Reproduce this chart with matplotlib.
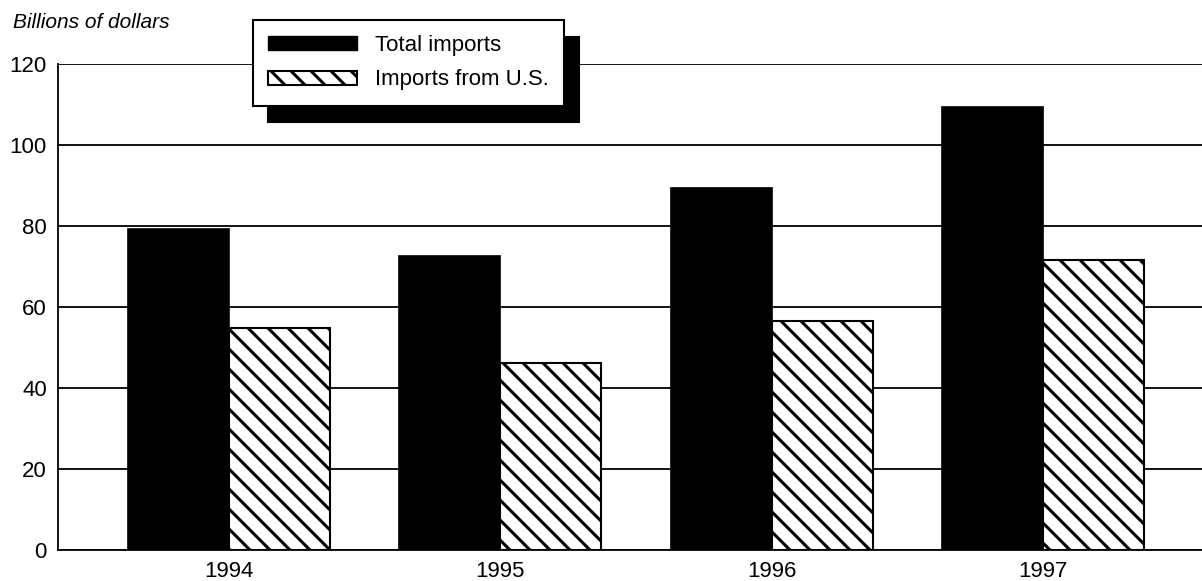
import numpy as np
import matplotlib.pyplot as plt
import matplotlib.hatch as mhatch
from matplotlib.patches import Patch

plt.rcParams['font.family'] = ['Liberation Sans', 'DejaVu Sans']
plt.rcParams['hatch.linewidth'] = 2.2


# wider-spaced "\" hatch, closer to the printed original
class SparseSouthEast(mhatch.SouthEastHatch):
    def __init__(self, hatch, density):
        super().__init__(hatch, density)
        self.num_lines = int(hatch.count('\\') * density * 5 / 3)
        self.num_vertices = (self.num_lines + 1) * 2 if self.num_lines else 0


mhatch._hatch_types = [SparseSouthEast if t is mhatch.SouthEastHatch else t
                       for t in mhatch._hatch_types]

years = ['1994', '1995', '1996', '1997']
total_imports = [79.3, 72.6, 89.4, 109.4]
imports_from_us = [54.8, 46.2, 56.5, 71.6]
yticks = [0, 20, 40, 60, 80, 100, 120]

fig = plt.figure(figsize=(12.02, 5.81), dpi=100)
ax = fig.add_axes([58 / 1202, 31 / 581, 1 - 58 / 1202, (550 - 64) / 581])

x = np.arange(len(years))
w = 0.372
ax.bar(x - w / 2, total_imports, w, color='black', edgecolor='black',
       linewidth=1.2, zorder=3)
ax.bar(x + w / 2, imports_from_us, w, color='white', edgecolor='black',
       hatch='\\', linewidth=1.5, zorder=3)

ax.set_xlim(-0.630, 3.586)
ax.set_ylim(0, 120)
ax.set_yticks(yticks)
ax.set_xticks(x)
ax.set_xticklabels(years)
ax.tick_params(axis='both', length=0, labelsize=16)
ax.tick_params(axis='y', pad=8)
ax.tick_params(axis='x', pad=8)
ax.yaxis.grid(True, color='black', linewidth=1.3, zorder=0)
ax.set_axisbelow(True)
for s in ['top', 'right']:
    ax.spines[s].set_visible(False)
for s in ['left', 'bottom']:
    ax.spines[s].set_linewidth(1.3)

fig.text(13 / 1202, 1 - 28 / 581, 'Billions of dollars', style='italic',
         fontsize=15, va='baseline', ha='left')

handles = [Patch(facecolor='black', edgecolor='black'),
           Patch(facecolor='white', edgecolor='black', hatch='\\', linewidth=1.5)]
leg = fig.legend(handles, ['Total imports', 'Imports from U.S.'],
                 loc='upper left', bbox_to_anchor=(253 / 1202, 1 - 20 / 581),
                 borderaxespad=0, fontsize=16, frameon=True, fancybox=False,
                 shadow={'ox': 11, 'oy': -12, 'color': 'black', 'alpha': 1},
                 handlelength=4.0, handleheight=0.6, handletextpad=0.8,
                 labelspacing=0.6, borderpad=0.68)
leg.get_frame().set_edgecolor('black')
leg.get_frame().set_linewidth(1.5)
leg.get_frame().set_alpha(1)

fig.savefig('out.png', dpi=100)
